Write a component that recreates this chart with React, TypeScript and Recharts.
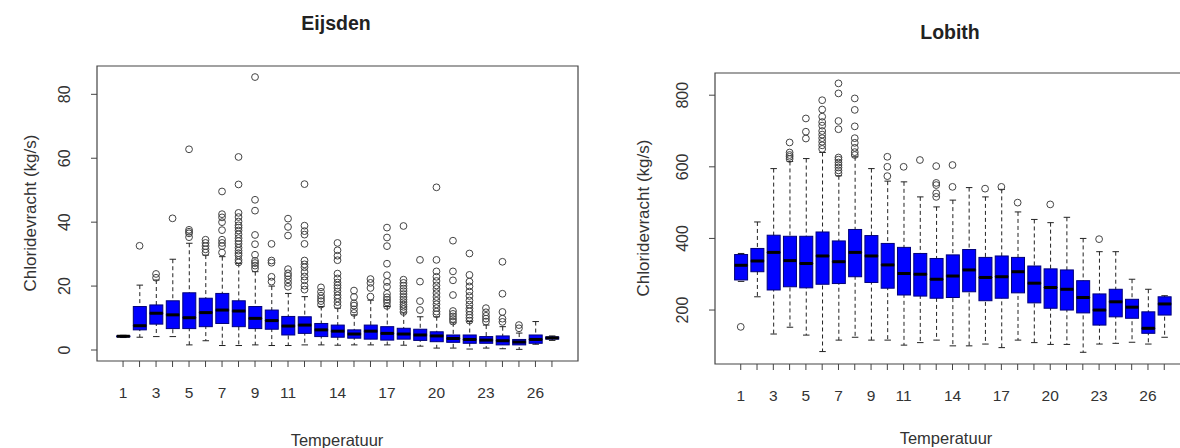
import React from "react";
import { ComposedChart, Bar, Scatter, XAxis, YAxis, ReferenceArea } from "recharts";

// temperature classes (27 boxes per station)
const temps = Array.from({ length: 27 }, (_, i) => i + 1);
const tickLabels = [1, 3, 5, 7, 9, 11, 14, 17, 20, 23, 26];

// Eijsden
const eLow = [3.9, 4.0, 4.2, 4.2, 1.6, 2.9, 1.4, 1.4, 1.6, 1.4, 1.4, 1.6, 1.6, 1.5, 1.6, 1.6, 1.6, 1.5, 1.2, 0.6, 0.6, 0.3, 0.6, 0.4, 0.2, 1.8, 3.0];
const eQ1 = [4.1, 6.3, 8.1, 6.7, 6.7, 7.3, 8.3, 7.3, 6.7, 6.5, 4.7, 5.2, 4.2, 4.0, 3.7, 3.4, 3.1, 3.4, 3.0, 2.6, 2.4, 2.1, 2.1, 1.6, 1.6, 2.1, 3.4];
const eMed = [4.3, 7.6, 11.5, 11.0, 10.1, 11.7, 12.5, 12.2, 9.9, 9.2, 7.5, 7.8, 6.3, 5.9, 5.0, 5.9, 5.2, 5.0, 4.7, 4.4, 3.6, 3.3, 3.1, 2.9, 2.5, 3.3, 3.8];
const eQ3 = [4.4, 13.6, 14.1, 15.4, 17.9, 16.2, 17.7, 15.4, 13.6, 12.5, 10.5, 10.4, 8.3, 7.8, 6.3, 7.8, 7.3, 6.8, 6.5, 5.7, 4.7, 4.7, 4.2, 4.4, 3.3, 4.7, 4.1];
const eHigh = [4.6, 20.3, 21.9, 28.4, 33.4, 29.7, 29.2, 27.1, 24.5, 20.0, 17.7, 16.7, 13.6, 13.1, 11.0, 15.6, 13.6, 11.6, 10.4, 10.4, 8.5, 8.9, 7.8, 7.3, 5.3, 8.9, 4.4];
const eOut = [
  [],
  [32.6],
  [22.6, 23.8],
  [41.2],
  [35.3, 36.5, 37.0, 37.6, 62.8],
  [30.5, 31.5, 32.5, 33.5, 34.5],
  [30.5, 32.5, 33.5, 34.5, 37.5, 40.0, 41.5, 42.5, 49.6],
  [27.4, 28.2, 29.6, 30.3, 31.1, 32.0, 33.2, 34.1, 35.0, 36.2, 37.4, 38.3, 39.0, 40.2, 41.6, 42.9, 51.8, 60.4],
  [25.5, 26.4, 27.2, 27.9, 29.8, 33.1, 36.0, 43.6, 47.0, 85.4],
  [21.4, 22.9, 27.3, 28.0, 33.2],
  [19.8, 21.0, 22.1, 23.2, 24.0, 25.3, 35.8, 38.5, 41.1],
  [18.9, 20.1, 21.8, 23.0, 24.4, 25.9, 26.8, 28.0, 33.2, 36.1, 37.2, 38.9, 51.9],
  [14.2, 15.3, 16.1, 17.0, 18.2, 19.6],
  [13.9, 15.0, 16.2, 17.1, 18.3, 19.4, 20.2, 21.1, 22.4, 23.9, 28.1, 29.5, 31.2, 33.5],
  [11.6, 12.7, 13.9, 14.6, 16.6, 18.6],
  [16.7, 19.4, 21.0, 22.2],
  [13.8, 14.9, 15.7, 16.5, 17.6, 19.8, 21.3, 23.4, 27.0, 32.5, 35.2, 38.3],
  [11.9, 12.8, 13.5, 14.2, 15.0, 15.8, 16.6, 17.5, 18.4, 19.2, 20.1, 21.0, 22.0, 38.8],
  [12.5, 15.3, 21.4, 28.2],
  [11.2, 12.0, 13.1, 14.3, 15.4, 16.6, 17.8, 19.1, 20.2, 21.6, 22.9, 24.6, 28.2, 50.9],
  [8.9, 9.7, 10.5, 11.3, 12.2, 17.2, 21.8, 24.6, 34.2],
  [9.2, 10.1, 11.0, 12.1, 13.0, 14.2, 15.5, 16.9, 18.3, 19.9, 21.4, 23.5, 30.2],
  [8.9, 9.8, 10.7, 11.8, 13.1],
  [8.8, 9.8, 11.9, 17.6, 27.6],
  [6.8, 7.8],
  [],
  [],
];

// Lobith
const lLow = [280, 237, 133, 152, 130, 84, 116, 124, 116, 116, 102, 109, 116, 100, 100, 105, 95, 116, 109, 104, 104, 82, 105, 107, 110, 105, 124];
const lQ1 = [284, 307, 256, 265, 262, 272, 274, 293, 277, 261, 242, 239, 233, 235, 251, 226, 233, 248, 220, 205, 200, 192, 158, 181, 177, 135, 186];
const lMed = [325, 337, 361, 338, 330, 351, 335, 361, 351, 326, 302, 300, 286, 295, 312, 291, 293, 307, 275, 263, 258, 235, 200, 223, 208, 149, 217];
const lQ3 = [355, 372, 409, 406, 406, 418, 393, 425, 408, 386, 375, 358, 344, 354, 369, 347, 351, 347, 323, 315, 312, 282, 245, 258, 230, 195, 237];
const lHigh = [358, 446, 595, 615, 623, 640, 575, 628, 595, 560, 558, 516, 488, 507, 542, 516, 537, 474, 453, 444, 459, 400, 363, 363, 286, 258, 240];
const lOut = [
  [153],
  [],
  [],
  [622, 628, 633, 640, 668],
  [679, 698, 735],
  [650, 660, 670, 680, 690, 700, 715, 725, 740, 760, 786],
  [582, 590, 598, 605, 612, 620, 626, 705, 728, 805, 833],
  [633, 641, 653, 667, 680, 713, 759, 791],
  [],
  [574, 600, 628],
  [600],
  [619],
  [516, 526, 549, 555, 602],
  [544, 605],
  [],
  [539],
  [544],
  [500],
  [],
  [495],
  [],
  [],
  [398],
  [],
  [],
  [],
  [],
];

const X_DOMAIN: [number, number] = [-0.58, 28.58];
const FONT = "'Liberation Sans', Arial, sans-serif";

function buildRows(lo: number[], q1: number[], med: number[], q3: number[], hi: number[]) {
  return temps.map((t, i) => ({
    t,
    whisker: [lo[i], hi[i]],
    lower: [q1[i], med[i]],
    upper: [med[i], q3[i]],
  }));
}

function buildOutliers(out: number[][]) {
  return out.flatMap((vals, i) => vals.map((v) => ({ t: temps[i], v })));
}

const Whisker = (p: any) => {
  const { x, y, width, height } = p;
  const cx = x + width / 2;
  const cap = width / 4;
  return (
    <g>
      <line x1={cx} x2={cx} y1={y} y2={y + height} stroke="#222" strokeDasharray="4 3" />
      <line x1={cx - cap} x2={cx + cap} y1={y} y2={y} stroke="#222" />
      <line x1={cx - cap} x2={cx + cap} y1={y + height} y2={y + height} stroke="#222" />
    </g>
  );
};

const UpperBox = (p: any) => (
  <rect x={p.x} y={p.y} width={p.width} height={Math.max(p.height, 0.5)} fill="#0000ff" stroke="#00007a" />
);

const LowerBox = (p: any) => (
  <g>
    <rect x={p.x} y={p.y} width={p.width} height={Math.max(p.height, 0.5)} fill="#0000ff" stroke="#00007a" />
    <line x1={p.x} x2={p.x + p.width} y1={p.y} y2={p.y} stroke="#000" strokeWidth={3} />
  </g>
);

const Outlier = (p: any) => (
  <circle cx={p.cx} cy={p.cy} r={3.4} fill="none" stroke="#444" strokeWidth={1} />
);

const XTick = (p: any) => {
  const v = p.payload.value;
  if (!tickLabels.includes(v)) return null;
  return (
    <text x={p.x} y={p.y + 29} textAnchor="middle" fontSize={15.5} fill="#333" fontFamily={FONT}>
      {v}
    </text>
  );
};

const YTick = (p: any) => {
  const cx = p.x - 25;
  return (
    <text
      x={cx}
      y={p.y}
      dy="0.35em"
      textAnchor="middle"
      fontSize={16}
      fill="#333"
      fontFamily={FONT}
      transform={`rotate(-90, ${cx}, ${p.y})`}
    >
      {p.payload.value}
    </text>
  );
};

interface PanelProps {
  rows: any[];
  outliers: { t: number; v: number }[];
  yDomain: [number, number];
  yTicks: number[];
  width: number;
  yWidth: number;
  margin: { top: number; right: number; bottom: number; left: number };
}

function BoxPanel({ rows, outliers, yDomain, yTicks, width, yWidth, margin }: PanelProps) {
  const axisCommon = {
    dataKey: "t",
    type: "number" as const,
    domain: X_DOMAIN,
    allowDataOverflow: true,
  };
  return (
    <ComposedChart width={width} height={448} data={rows} margin={margin}>
      <XAxis
        xAxisId="main"
        {...axisCommon}
        height={30}
        ticks={temps}
        interval={0}
        tick={<XTick />}
        tickSize={6}
        axisLine={false}
        tickLine={{ stroke: "#444" }}
      />
      <XAxis xAxisId="w" {...axisCommon} height={0} hide />
      <XAxis xAxisId="u" {...axisCommon} height={0} hide />
      <XAxis xAxisId="l" {...axisCommon} height={0} hide />
      <YAxis
        type="number"
        domain={yDomain}
        allowDataOverflow
        ticks={yTicks}
        interval={0}
        width={yWidth}
        tick={<YTick />}
        tickSize={6}
        axisLine={false}
        tickLine={{ stroke: "#444" }}
      />
      <Bar xAxisId="w" dataKey="whisker" barSize={13} shape={<Whisker />} isAnimationActive={false} />
      <Bar xAxisId="u" dataKey="upper" barSize={13} shape={<UpperBox />} isAnimationActive={false} />
      <Bar xAxisId="l" dataKey="lower" barSize={13} shape={<LowerBox />} isAnimationActive={false} />
      <Scatter xAxisId="main" data={outliers} dataKey="v" shape={<Outlier />} isAnimationActive={false} />
      <ReferenceArea
        xAxisId="main"
        x1={X_DOMAIN[0]}
        x2={X_DOMAIN[1]}
        y1={yDomain[0]}
        y2={yDomain[1]}
        fill="none"
        stroke="#444"
        strokeWidth={1.2}
        ifOverflow="visible"
      />
    </ComposedChart>
  );
}

export default function App() {
  const eRows = buildRows(eLow, eQ1, eMed, eQ3, eHigh);
  const lRows = buildRows(lLow, lQ1, lMed, lQ3, lHigh);
  return (
    <div
      style={{
        position: "fixed",
        left: 0,
        top: 0,
        width: 1180,
        height: 448,
        overflow: "hidden",
        background: "#fff",
        fontFamily: FONT,
      }}
    >
      <div style={{ position: "absolute", left: 0, top: 0 }}>
        <BoxPanel
          rows={eRows}
          outliers={buildOutliers(eOut)}
          yDomain={[-3.44, 88.86]}
          yTicks={[0, 20, 40, 60, 80]}
          width={590}
          yWidth={97}
          margin={{ top: 66, right: 12, bottom: 57, left: 0 }}
        />
      </div>
      <div style={{ position: "absolute", left: 590, top: 0 }}>
        <BoxPanel
          rows={lRows}
          outliers={buildOutliers(lOut)}
          yDomain={[49.3, 862]}
          yTicks={[200, 400, 600, 800]}
          width={620}
          yWidth={125}
          margin={{ top: 73, right: 20, bottom: 54, left: 0 }}
        />
      </div>
      <svg width={1180} height={448} style={{ position: "absolute", left: 0, top: 0, pointerEvents: "none" }}>
        <text x={336} y={30} textAnchor="middle" fontSize={19.5} fontWeight="bold" fill="#222" fontFamily={FONT}>
          Eijsden
        </text>
        <text x={950} y={39} textAnchor="middle" fontSize={19.5} fontWeight="bold" fill="#222" fontFamily={FONT}>
          Lobith
        </text>
        <text x={337} y={446} textAnchor="middle" fontSize={16.5} fill="#333" fontFamily={FONT}>
          Temperatuur
        </text>
        <text x={946} y={444} textAnchor="middle" fontSize={16.5} fill="#333" fontFamily={FONT}>
          Temperatuur
        </text>
        <text
          x={30}
          y={213}
          dy="0.35em"
          textAnchor="middle"
          fontSize={17}
          fill="#333"
          fontFamily={FONT}
          transform="rotate(-90, 30, 213)"
        >
          Chloridevracht (kg/s)
        </text>
        <text
          x={643}
          y={218}
          dy="0.35em"
          textAnchor="middle"
          fontSize={17}
          fill="#333"
          fontFamily={FONT}
          transform="rotate(-90, 643, 218)"
        >
          Chloridevracht (kg/s)
        </text>
      </svg>
    </div>
  );
}
